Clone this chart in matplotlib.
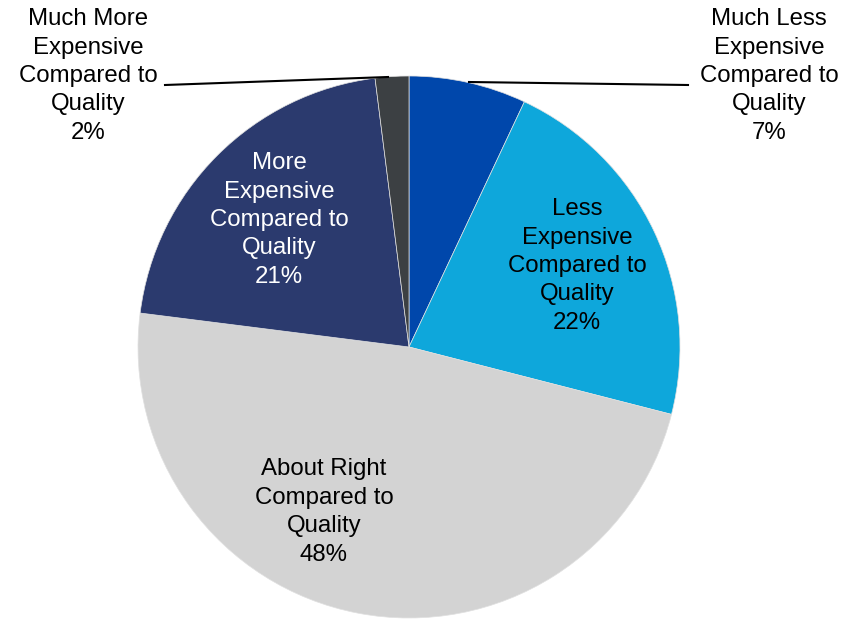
import matplotlib.pyplot as plt

# Data
categories = ['Much Less\nExpensive\nCompared to\nQuality', 'Less\nExpensive\nCompared to\nQuality',
              'About Right\nCompared to\nQuality', 'More\nExpensive\nCompared to\nQuality',
              'Much More\nExpensive\nCompared to\nQuality']
values = [7, 22, 48, 21, 2]
colors = ['#0047AB', '#0EA7DB', '#D3D3D3', '#2B3A6E', '#3C4043']
text_colors = ['black', 'black', 'black', 'white', 'black']

plt.rcParams['font.family'] = ['Liberation Sans', 'DejaVu Sans']

fig = plt.figure(figsize=(8.59, 6.21), dpi=100)
ax = fig.add_axes([0, 0, 1, 1])

cx, cy, r = 409, 347, 271
def px(x, y):
    return ((x - cx) / r, (cy - y) / r)

wedges, _ = ax.pie(values, colors=colors, startangle=90, counterclock=False,
                   radius=1, wedgeprops=dict(edgecolor='#e0e0e0', linewidth=0.5))

# label positions in pixels
label_pos = [(769, 76), (577, 266), (324, 512), (279, 220), (88, 76)]
for cat, v, pos, tc in zip(categories, values, label_pos, text_colors):
    x, y = px(*pos)
    ax.text(x, y, f'{cat}\n{v}%', ha='center', va='center', fontsize=17.3,
            color=tc, linespacing=1.38)

# leader lines
for (x0, y0), (x1, y1) in [((469, 82), (688, 85)), ((388, 77), (165, 85))]:
    a, b = px(x0, y0)
    c, d = px(x1, y1)
    ax.plot([a, c], [b, d], color='black', linewidth=1.5)

ax.set_xlim((0 - cx) / r, (859 - cx) / r)
ax.set_ylim((cy - 621) / r, cy / r)
ax.set_aspect('equal')
ax.axis('off')

fig.savefig('out.png', dpi=100)
